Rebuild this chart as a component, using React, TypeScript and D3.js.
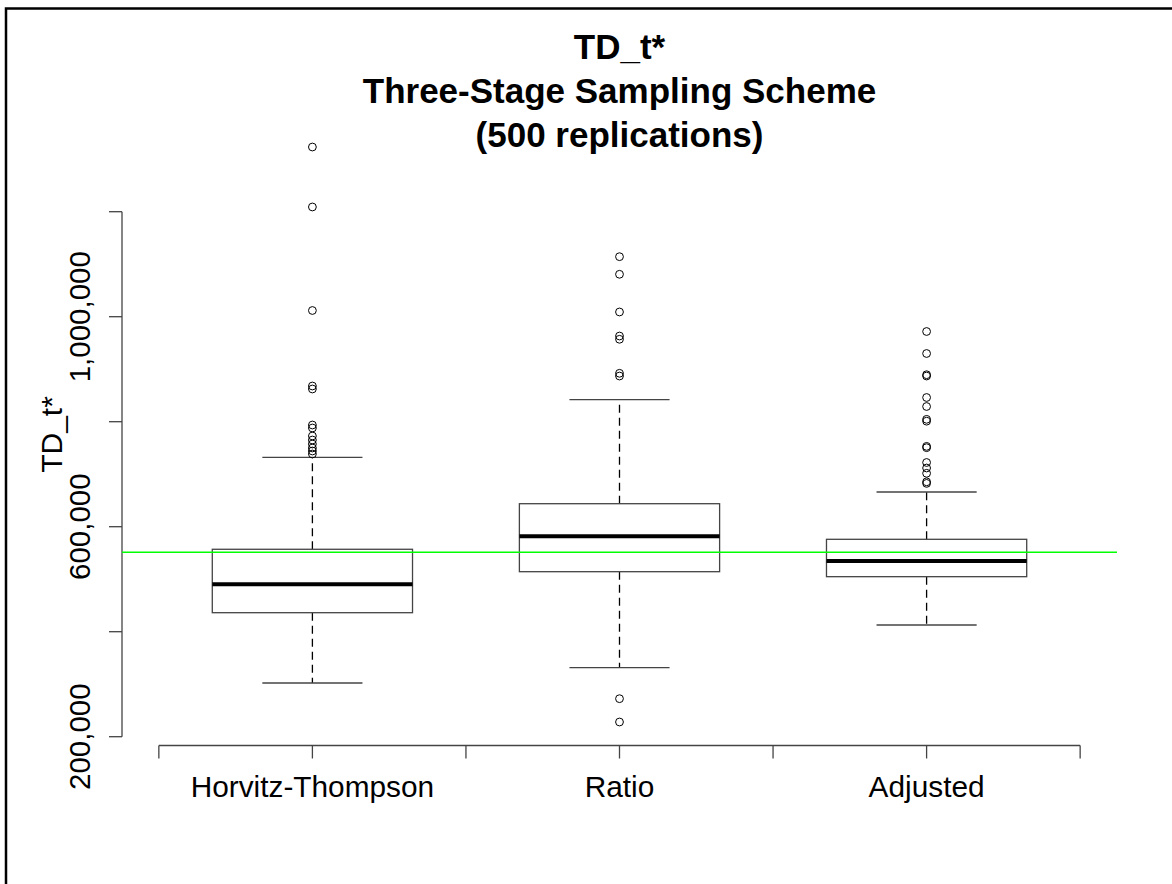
import React from "react";
import * as d3 from "d3";

const categories = ["Horvitz-Thompson", "Ratio", "Adjusted"];
const lowerWhisker = [302300, 331400, 412800];
const q1 = [436200, 514300, 504800];
const median = [490300, 581700, 534700];
const q3 = [557000, 643800, 576000];
const upperWhisker = [732200, 841900, 666100];
const outliersHT = [1323200, 1209000, 1011800, 868000, 862300, 793700, 788000, 772800, 765100, 757500, 749900, 744200, 738500];
const outliersRatio = [1114300, 1080800, 1009000, 963200, 957000, 892200, 887000, 272400, 228000];
const outliersAdj = [971800, 929900, 889500, 887000, 846100, 828950, 804500, 801000, 753000, 750500, 722300, 711800, 701700, 685500, 682500];
const outliers = [outliersHT, outliersRatio, outliersAdj];
const trueValue = 551200;
const yTicks = [200000, 400000, 600000, 800000, 1000000, 1200000];
const yTickLabels = ["200,000", "", "600,000", "", "1,000,000", ""];
const xTicks = [0.5, 1, 1.5, 2, 2.5, 3, 3.5];
const titleLines = ["TD_t*", "Three-Stage Sampling Scheme", "(500 replications)"];
const yLabel = "TD_t*";

const W = 1172;
const H = 884;
const FONT = "'Liberation Sans', Arial, sans-serif";

export default function App() {
  const x = d3.scaleLinear().domain([0.38, 3.62]).range([122, 1117]);
  const y = d3.scaleLinear().domain([200000, 1200000]).range([736.7, 211.7]);
  const boxHalf = 0.326;
  const capHalf = 0.163;
  const axisY = 745.5;
  const stroke = "#444";

  return (
    <svg
      width={W}
      height={H}
      style={{ position: "absolute", left: 0, top: 0, background: "#fff" }}
      fontFamily={FONT}
    >
      <rect x={0} y={0} width={W} height={H} fill="#fff" />
      <rect x={6} y={8.5} width={W + 20} height={H + 20} fill="none" stroke="#000" strokeWidth={2.5} />

      {/* title */}
      {titleLines.map((t, i) => (
        <text
          key={i}
          x={619.5}
          y={[59.3, 102.5, 147][i]}
          textAnchor="middle"
          fontWeight="bold"
          fontSize={35}
          fill="#000"
        >
          {t}
        </text>
      ))}

      {/* y axis */}
      <line x1={122} x2={122} y1={y(200000)} y2={y(1200000)} stroke={stroke} strokeWidth={1.3} />
      {yTicks.map((t, i) => (
        <g key={t}>
          <line x1={109} x2={122} y1={y(t)} y2={y(t)} stroke={stroke} strokeWidth={1.3} />
          {yTickLabels[i] && (
            <text
              transform={`translate(90,${y(t)}) rotate(-90)`}
              textAnchor="middle"
              fontSize={29.5}
              fill="#000"
            >
              {yTickLabels[i]}
            </text>
          )}
        </g>
      ))}
      <text transform={`translate(62,434.5) rotate(-90)`} textAnchor="middle" fontSize={30} fill="#000">
        {yLabel}
      </text>

      {/* x axis */}
      <line x1={x(0.5)} x2={x(3.5)} y1={axisY} y2={axisY} stroke={stroke} strokeWidth={1.3} />
      {xTicks.map((t) => (
        <line key={t} x1={x(t)} x2={x(t)} y1={axisY} y2={axisY + 13} stroke={stroke} strokeWidth={1.3} />
      ))}
      {categories.map((c, i) => (
        <text key={c} x={x(i + 1)} y={796.7} textAnchor="middle" fontSize={29.8} fill="#000">
          {c}
        </text>
      ))}

      {/* boxes */}
      {categories.map((c, i) => {
        const cx = x(i + 1);
        const bl = x(i + 1 - boxHalf);
        const br = x(i + 1 + boxHalf);
        const cl = x(i + 1 - capHalf);
        const cr = x(i + 1 + capHalf);
        return (
          <g key={c}>
            <line x1={cx} x2={cx} y1={y(q3[i])} y2={y(upperWhisker[i])} stroke="#000" strokeWidth={1.3} strokeDasharray="8,5" />
            <line x1={cx} x2={cx} y1={y(q1[i])} y2={y(lowerWhisker[i])} stroke="#000" strokeWidth={1.3} strokeDasharray="8,5" />
            <line x1={cl} x2={cr} y1={y(upperWhisker[i])} y2={y(upperWhisker[i])} stroke={stroke} strokeWidth={1.3} />
            <line x1={cl} x2={cr} y1={y(lowerWhisker[i])} y2={y(lowerWhisker[i])} stroke={stroke} strokeWidth={1.3} />
            <rect
              x={bl}
              y={y(q3[i])}
              width={br - bl}
              height={y(q1[i]) - y(q3[i])}
              fill="#fff"
              stroke={stroke}
              strokeWidth={1.3}
            />
            <line x1={bl} x2={br} y1={y(median[i])} y2={y(median[i])} stroke="#000" strokeWidth={4} />
            {outliers[i].map((v, j) => (
              <circle key={j} cx={cx} cy={y(v)} r={3.9} fill="none" stroke="#000" strokeWidth={1} />
            ))}
          </g>
        );
      })}

      {/* true value line */}
      <line x1={122} x2={1117} y1={y(trueValue)} y2={y(trueValue)} stroke="#00ff00" strokeWidth={1.5} />
    </svg>
  );
}
